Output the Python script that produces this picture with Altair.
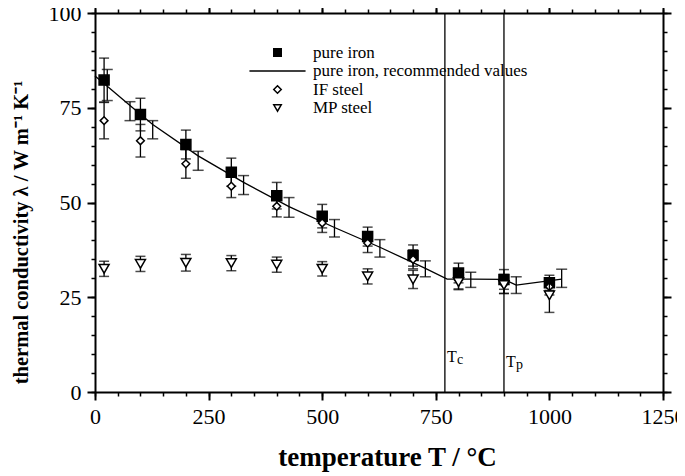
import altair as alt
import pandas as pd

# ---------------- data ----------------
T_pts = [20, 100, 200, 300, 400, 500, 600, 700, 800, 900, 1000]
iron_val = [82.3, 73.2, 65.3, 58.0, 51.8, 46.4, 41.0, 36.0, 31.4, 29.7, 28.8]
iron_err = [5.8, 4.3, 3.8, 3.7, 3.5, 3.1, 2.5, 2.8, 2.6, 2.6, 2.0]
if_val = [71.6, 66.3, 60.2, 54.3, 49.0, 44.6, 39.3, 35.0, 29.5, 28.5, 27.8]
if_err = [4.8, 4.3, 3.8, 3.0, 2.8, 2.5, 2.5, 2.5, 2.3, 2.5, 2.2]
mp_val = [32.5, 33.8, 34.1, 34.0, 33.6, 32.5, 30.5, 29.7, 29.0, 28.2, 25.5]
mp_err = [2.0, 2.0, 2.2, 2.0, 2.0, 1.9, 2.0, 2.4, 2.0, 2.2, 4.5]

rec_T = [27, 77, 127, 227, 327, 427, 527, 627, 727, 827, 927, 1027]
rec_val = [81.0, 74.1, 69.2, 61.0, 54.6, 48.7, 43.2, 37.9, 32.5, 29.6, 28.2, 30.0]
rec_err = [4.1, 2.5, 2.4, 2.5, 2.5, 2.6, 2.3, 2.3, 2.1, 2.0, 2.2, 2.4]

line_T = [0, 27, 77, 127, 227, 327, 427, 527, 627, 727, 775, 827, 900, 927, 1027]
line_val = [83.4, 80.7, 75.6, 70.6, 62.3, 55.3, 48.9, 43.4, 38.2, 32.6, 29.8, 29.8, 29.7, 28.2, 29.8]

trans_T = [770, 900]
trans_main = ["T", "T"]
trans_sub = ["c", "p"]
trans_y = [7.8, 6.65]

series = ["pure iron", "pure iron, recommended values", "IF steel", "MP steel"]
shapes = ["square", "M-7.5,0H7.5", "diamond", "triangle-down"]
fills = ["black", "transparent", "white", "white"]
strokes = ["black", "black", "black", "black"]

x_major = [0, 250, 500, 750, 1000, 1250]
x_minor = list(range(0, 1251, 50))
y_major = [0, 25, 50, 75, 100]
y_minor = list(range(0, 101, 5))

FONT = "Liberation Serif"

xs = alt.Scale(domain=[0, 1250], nice=False, zero=False)
ys = alt.Scale(domain=[0, 100], nice=False, zero=False)


def mk(T, v, e, name):
    return pd.DataFrame({"T": T, "v": v, "lo": [a - b for a, b in zip(v, e)],
                         "hi": [a + b for a, b in zip(v, e)], "series": name})


def caps(df):
    return pd.concat([df.assign(c=df["lo"]), df.assign(c=df["hi"])])


iron = mk(T_pts, iron_val, iron_err, series[0])
ifs = mk(T_pts, if_val, if_err, series[2])
mps = mk(T_pts, mp_val, mp_err, series[3])
rec = mk(rec_T, rec_val, rec_err, series[1])
line_df = pd.DataFrame({"T": line_T, "v": line_val})
trans_df = pd.DataFrame({"T": trans_T, "m": trans_main, "s": trans_sub, "y": trans_y})


def axis(orient, values, size, width, major, labels=False, title=None):
    kw = dict(orient=orient, values=values, tickSize=size, tickWidth=width,
              tickColor="black", domain=major, domainColor="black", domainWidth=2,
              labels=labels, grid=False, title=title)
    if labels:
        kw.update(labelFont=FONT, labelFontSize=22, labelColor="black",
                  labelPadding=6, labelFlush=False, labelOverlap=False, format="d")
    if title:
        kw.update(titleFont=FONT, titleFontWeight="bold", titleColor="black")
    return alt.Axis(**kw)


ax_bottom = axis("bottom", x_major, 8, 2, True, labels=True, title="temperature T / °C")
ax_bottom.titleFontSize = 27
ax_bottom.titlePadding = 17
ax_bottom.titleX = 292
ax_left = axis("left", y_major, 8, 2, True, labels=True,
               title="thermal conductivity λ / W m⁻¹ K⁻¹")
ax_left.titleFontSize = 20.5
ax_left.titlePadding = 17
ax_left.titleY = 219

legend = alt.Legend(orient="none", legendX=174, legendY=31, title=None,
                    labelFont=FONT, labelFontSize=17, labelColor="black", labelLimit=400,
                    symbolSize=56, symbolStrokeColor="black", symbolStrokeWidth=1.5,
                    labelOffset=27, rowPadding=0.5, padding=0)

shape_enc = alt.Shape("series:N", scale=alt.Scale(domain=series, range=shapes), legend=legend)
fill_enc = alt.Fill("series:N", scale=alt.Scale(domain=series, range=fills), legend=legend)
stroke_enc = alt.Stroke("series:N", scale=alt.Scale(domain=series, range=strokes), legend=legend)


def X(ax=None):
    return alt.X("T:Q", scale=xs, axis=ax)


def errbars(df, cap):
    base = alt.Chart(df)
    r = base.mark_rule(color="black", strokeWidth=1.3).encode(
        x=X(), y=alt.Y("lo:Q", scale=ys, axis=None), y2="hi:Q")
    t = alt.Chart(caps(df)).mark_tick(color="black", orient="horizontal", size=cap,
                                      thickness=1.5).encode(
        x=X(), y=alt.Y("c:Q", scale=ys, axis=None))
    return [r, t]


def points(df, size, xax, yax):
    return alt.Chart(df).mark_point(filled=False, color="black", strokeWidth=1.5,
                                    size=size, opacity=1).encode(
        x=X(xax), y=alt.Y("v:Q", scale=ys, axis=yax), shape=shape_enc, fill=fill_enc,
        stroke=stroke_enc)


rules = alt.Chart(trans_df).mark_rule(color="black", strokeWidth=1.3).encode(x=X())
t_main = alt.Chart(trans_df).mark_text(font=FONT, fontSize=16, align="left",
                                       baseline="alphabetic", dx=2, color="black").encode(
    x=X(), y=alt.Y("y:Q", scale=ys, axis=None), text="m:N")
t_sub = alt.Chart(trans_df).mark_text(font=FONT, fontSize=14, align="left",
                                      baseline="alphabetic", dx=12, dy=2, color="black").encode(
    x=X(), y=alt.Y("y:Q", scale=ys, axis=None), text="s:N")

line = alt.Chart(line_df).mark_line(color="black", strokeWidth=1.3).encode(
    x=X(ax_bottom), y=alt.Y("v:Q", scale=ys, axis=ax_left))

layers = [rules, t_main, t_sub] + errbars(rec, 11) + [line]
layers += errbars(iron, 10) + [points(iron, 100, axis("bottom", x_minor, 4, 1.5, False),
                                      axis("left", y_minor, 4, 1.5, False))]
layers += errbars(ifs, 10) + [points(ifs, 60, axis("top", x_major, 8, 2, True),
                                     axis("right", y_major, 8, 2, True))]
layers += errbars(mps, 10) + [points(mps, 100, axis("top", x_minor, 4, 1.5, False),
                                     axis("right", y_minor, 4, 1.5, False))]

chart = alt.layer(*layers).resolve_axis(x="independent", y="independent").properties(
    width=568, height=379,
    autosize=alt.AutoSizeParams(type="none"),
    padding={"left": 87, "top": 5, "right": 14, "bottom": 82},
).configure_view(stroke=None).configure_legend(labelFont=FONT)

chart.save("out.html", embed_options={"renderer": "svg", "actions": False})
